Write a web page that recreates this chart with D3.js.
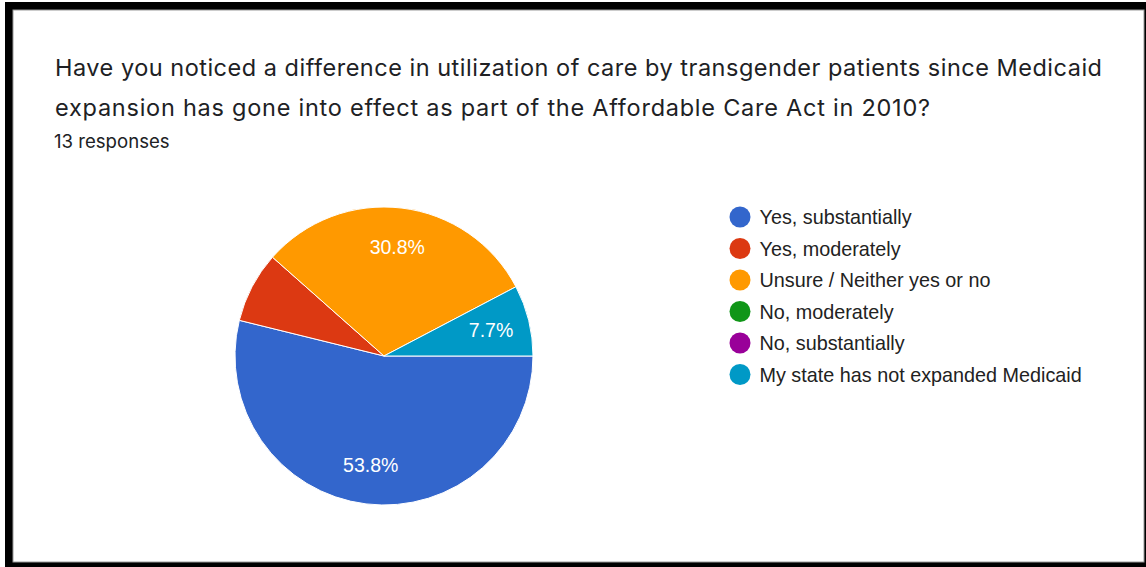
<!DOCTYPE html>
<html>
<head>
<meta charset="utf-8">
<script src="https://cdn.jsdelivr.net/npm/d3@7"></script>
<style>
  html, body { margin: 0; padding: 0; background: #ffffff; }
  svg { display: block; }
</style>
</head>
<body>
<svg id="chart" width="1146" height="567"></svg>
<script>
// Survey answers and response counts
const categories = [
  "Yes, substantially",
  "Yes, moderately",
  "Unsure / Neither yes or no",
  "No, moderately",
  "No, substantially",
  "My state has not expanded Medicaid"
];
const responses = [7, 1, 4, 0, 0, 1];
const sliceColors = ["#3366cc", "#dc3912", "#ff9900", "#109618", "#990099", "#0099c6"];

const titleLines = [
  "Have you noticed a difference in utilization of care by transgender patients since Medicaid",
  "expansion has gone into effect as part of the Affordable Care Act in 2010?"
];
const titleWidths = [1047, 875];
const subtitle = "13 responses";

const svg = d3.select("#chart");
const W = 1146, H = 567;

// Card frame with a heavy dark edge
svg.append("rect").attr("x", 5).attr("y", 2).attr("width", W - 5).attr("height", H - 2).attr("fill", "#000");
svg.append("rect").attr("x", 13).attr("y", 10).attr("width", 1131).attr("height", 552)
  .attr("fill", "#fff").attr("stroke", "#9a9a9a").attr("stroke-width", 1);

// Heading
const heading = svg.append("g").attr("font-family", "Inter, Roboto, Arial, sans-serif").attr("fill", "#202124");
heading.selectAll("text.title").data(titleLines).join("text")
  .attr("class", "title")
  .attr("x", 55)
  .attr("y", (d, i) => 76 + i * 40)
  .attr("font-size", 23.5)
  .attr("textLength", (d, i) => titleWidths[i])
  .attr("lengthAdjust", "spacing")
  .text(d => d);
heading.append("text")
  .attr("x", 54).attr("y", 148)
  .attr("font-size", 18.6)
  .text(subtitle);

// Pie, starting at three o'clock and running clockwise
const cx = 384, cy = 356, R = 149;
const total = d3.sum(responses);
const pie = d3.pie().sort(null).value(d => d)
  .startAngle(Math.PI / 2).endAngle(Math.PI / 2 + 2 * Math.PI);
const arcs = pie(responses);
const arc = d3.arc().innerRadius(0).outerRadius(R);
const labelArc = d3.arc().innerRadius(R * 0.74).outerRadius(R * 0.74);
const pct = d3.format(".1%");

const g = svg.append("g").attr("transform", `translate(${cx},${cy})`);
g.selectAll("path").data(arcs.filter(a => a.value > 0)).join("path")
  .attr("d", arc)
  .attr("fill", d => sliceColors[d.index])
  .attr("stroke", "#fff")
  .attr("stroke-width", 1);

// Percentages on the labelled slices
const labelled = new Set([0, 2, 5]);
g.selectAll("text").data(arcs.filter(a => labelled.has(a.index))).join("text")
  .attr("transform", d => `translate(${labelArc.centroid(d)})`)
  .attr("text-anchor", "middle")
  .attr("dy", "0.36em")
  .attr("font-family", "Arial, 'Liberation Sans', sans-serif")
  .attr("font-size", 19.5)
  .attr("fill", "#fff")
  .text(d => pct(d.value / total));

// Legend
const legend = svg.append("g").attr("transform", "translate(740,217)");
const item = legend.selectAll("g").data(categories).join("g")
  .attr("transform", (d, i) => `translate(0,${i * 31.5})`);
item.append("circle").attr("r", 10.5).attr("fill", (d, i) => sliceColors[i]);
item.append("text")
  .attr("x", 19.5).attr("dy", "0.36em")
  .attr("font-family", "Arial, 'Liberation Sans', sans-serif")
  .attr("font-size", 19.8)
  .attr("fill", "#222")
  .text(d => d);
</script>
</body>
</html>
